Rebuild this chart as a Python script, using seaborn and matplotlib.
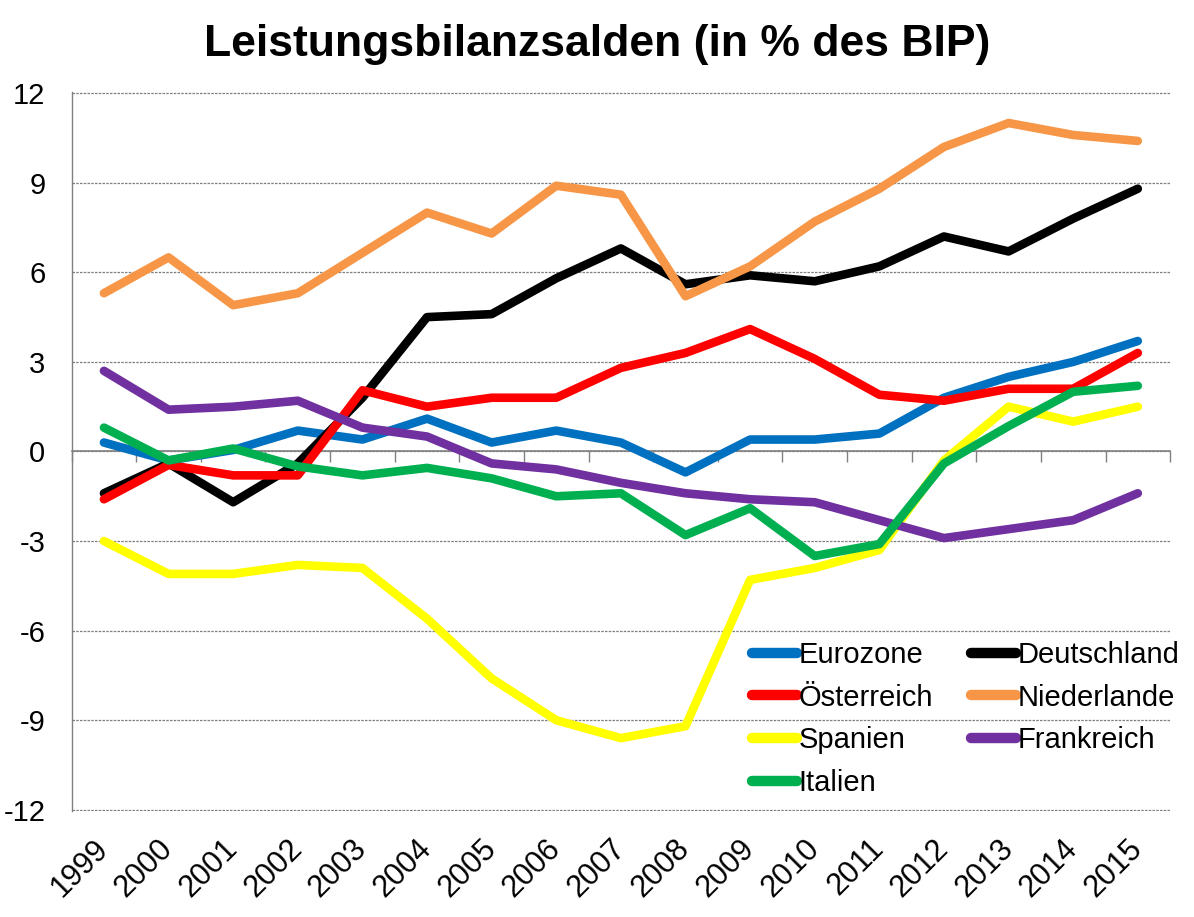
import matplotlib
matplotlib.use("Agg")
import pandas as pd
import matplotlib.pyplot as plt
from matplotlib.lines import Line2D
import seaborn as sns

years = list(range(1999, 2016))
eurozone = [0.3, -0.3, 0.05, 0.7, 0.4, 1.1, 0.3, 0.7, 0.3, -0.7, 0.4, 0.4, 0.6, 1.8, 2.5, 3.0, 3.7]
deutschland = [-1.4, -0.4, -1.7, -0.4, 1.8, 4.5, 4.6, 5.8, 6.8, 5.6, 5.9, 5.7, 6.2, 7.2, 6.7, 7.8, 8.8]
oesterreich = [-1.6, -0.45, -0.8, -0.8, 2.05, 1.5, 1.8, 1.8, 2.8, 3.3, 4.1, 3.1, 1.9, 1.7, 2.1, 2.1, 3.3]
niederlande = [5.3, 6.5, 4.9, 5.3, 6.65, 8.0, 7.3, 8.9, 8.6, 5.2, 6.2, 7.7, 8.8, 10.2, 11.0, 10.6, 10.4]
spanien = [-3.0, -4.1, -4.1, -3.8, -3.9, -5.6, -7.6, -9.0, -9.6, -9.2, -4.3, -3.9, -3.3, -0.3, 1.5, 1.0, 1.5]
frankreich = [2.7, 1.4, 1.5, 1.7, 0.8, 0.5, -0.4, -0.6, -1.05, -1.4, -1.6, -1.7, -2.3, -2.9, -2.6, -2.3, -1.4]
italien = [0.8, -0.3, 0.1, -0.5, -0.8, -0.55, -0.9, -1.5, -1.4, -2.8, -1.9, -3.5, -3.1, -0.4, 0.85, 2.0, 2.2]

laender = ["Eurozone", "Deutschland", "Österreich", "Niederlande", "Spanien", "Frankreich", "Italien"]
werte = [eurozone, deutschland, oesterreich, niederlande, spanien, frankreich, italien]
farben = ["#0070C0", "#000000", "#FF0000", "#F79646", "#FFFF00", "#7030A0", "#00B050"]
y_ticks = [-12, -9, -6, -3, 0, 3, 6, 9, 12]

rows = []
for land, vals in zip(laender, werte):
    for i, v in enumerate(vals):
        rows.append({"idx": i, "jahr": years[i], "land": land, "wert": v})
df = pd.DataFrame(rows)

sns.set_style("white")
plt.rcParams["font.family"] = ["Liberation Sans", "DejaVu Sans"]
plt.rcParams["axes.unicode_minus"] = False
plt.rcParams["text.color"] = "black"
plt.rcParams["xtick.color"] = "black"
plt.rcParams["ytick.color"] = "black"

fig = plt.figure(figsize=(11.94, 9.17), dpi=100)
ax = fig.add_axes([0.06, 0.1156, 0.92, 0.7841])

sns.lineplot(data=df, x="idx", y="wert", hue="land", hue_order=laender,
             palette=dict(zip(laender, farben)), linewidth=6.2, ax=ax, legend=False)
for ln in ax.lines:
    ln.set_solid_capstyle("round")
    ln.set_solid_joinstyle("round")

ax.set_xlim(-0.5, len(years) - 0.5)
ax.set_ylim(-12.04, 12.04)
ax.set_yticks(y_ticks)
ax.set_yticklabels([str(t) for t in y_ticks], fontsize=21)
ax.tick_params(axis="y", length=0, pad=19)
ax.set_xticks(range(len(years)))
ax.set_xticklabels([str(y) for y in years], fontsize=22, rotation=45,
                   ha="right", va="center", rotation_mode="anchor")
ax.tick_params(axis="x", length=0, pad=24)
ax.set_xlabel("")
ax.set_ylabel("")

ax.yaxis.grid(True, color="#7f7f7f", linestyle=(0, (2, 1)), linewidth=0.9)
ax.set_axisbelow(True)
for s in ["top", "right", "bottom"]:
    ax.spines[s].set_visible(False)
ax.spines["left"].set_color("#808080")
ax.spines["left"].set_linewidth(1)

# x-Achse bei 0 mit Strichen zwischen den Kategorien
sec = ax.secondary_xaxis(0.5)
sec.set_alignment("bottom")
sec.set_xticks([i - 0.5 for i in range(len(years) + 1)])
sec.set_xticklabels([])
sec.tick_params(axis="x", direction="out", length=8, width=1, color="#808080")
for s in sec.spines.values():
    s.set_color("#808080")
    s.set_linewidth(1.2)

fig.text(0.5, 0.951, "Leistungsbilanzsalden (in % des BIP)", fontsize=32,
         fontweight="bold", ha="center", va="center")

# Legende zeilenweise wie im Original
handles = {l: Line2D([0], [0], color=c, linewidth=7.5, solid_capstyle="round")
           for l, c in zip(laender, farben)}
order = ["Eurozone", "Österreich", "Spanien", "Italien", "Deutschland", "Niederlande", "Frankreich"]
ax.legend([handles[l] for l in order], order, ncol=2, loc="upper left",
          bbox_to_anchor=(752 / 1194, 1 - 641 / 917), bbox_transform=fig.transFigure,
          frameon=False, fontsize=21, handlelength=1.55, handletextpad=0.05,
          columnspacing=1.3, labelspacing=0.5, borderpad=0, borderaxespad=0)

fig.savefig("out.png", dpi=100)
